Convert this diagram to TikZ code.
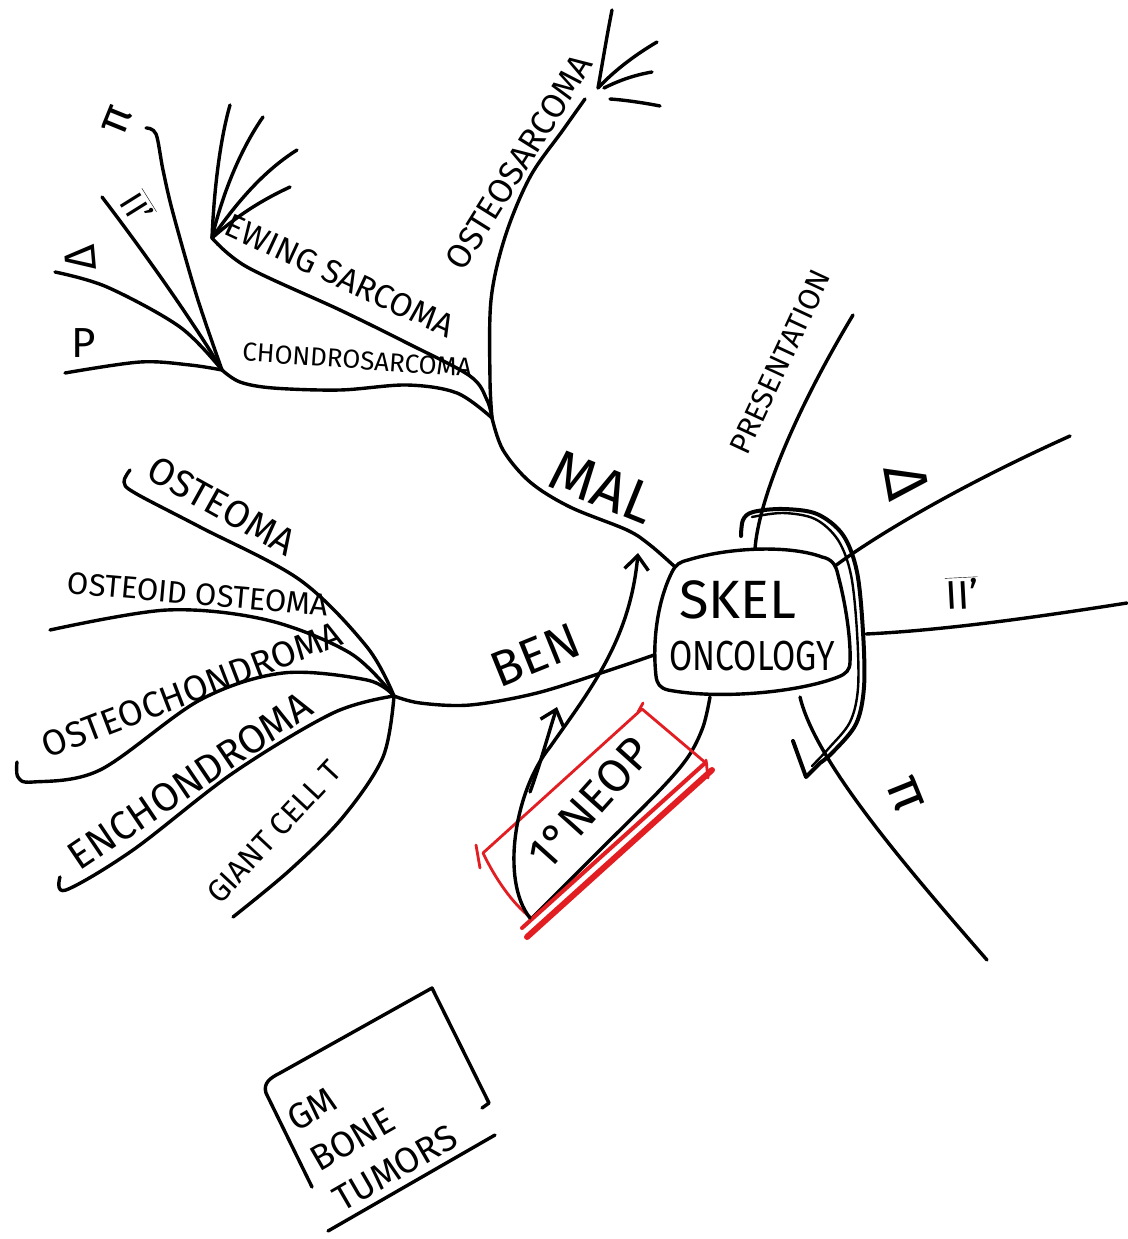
\documentclass[tikz,border=0pt]{standalone}
\usepackage{fontspec}
\setmainfont{Fira Sans}
\usetikzlibrary{arrows.meta}
\definecolor{penred}{RGB}{226,30,34}
\begin{document}
\begin{tikzpicture}[x=1pt,y=-1pt,
  ink/.style={draw=black,line width=3.4pt,line cap=round,line join=round},
  branch/.style={ink,smooth,tension=0.55},
  redink/.style={draw=penred,line width=2.8pt,line cap=round,line join=round},
  lab/.style={inner sep=0pt,text=black,font=\fontsize{#1}{#1}\selectfont},
  arr/.style={ink,-{Straight Barb[length=14pt,width=24pt]}},
]
\useasboundingbox (0,0) rectangle (1127,1239);
\fill[white] (0,0) rectangle (1127,1239);

% ---------- named points ----------
\coordinate (cMal) at (674,566);
\coordinate (jMal) at (492,418);
\coordinate (oEnd) at (585,99);
\coordinate (oFan) at (598,88);
\coordinate (of1) at (612,10);
\coordinate (of2) at (657,42);
\coordinate (of3a) at (604,88);
\coordinate (of3) at (652,72);
\coordinate (of4a) at (610,99);
\coordinate (of4) at (660,106);
\coordinate (jEw) at (212,238);
\coordinate (e1) at (230,105);
\coordinate (e2) at (263,117);
\coordinate (e3) at (297,150);
\coordinate (e4) at (290,187);
\coordinate (jChon) at (222,370);
\coordinate (ch1) at (65,373);
\coordinate (ch2) at (55,272);
\coordinate (ch3) at (102,197);
\coordinate (ch4) at (146,128);
\coordinate (cBen) at (654,655);
\coordinate (jBen) at (394,696);
\coordinate (b1) at (130,470);
\coordinate (b2) at (50,630);
\coordinate (b3) at (17,762);
\coordinate (b4) at (60,877);
\coordinate (b5) at (233,917);
\coordinate (cPres) at (755,549);
\coordinate (presEnd) at (853,315);
\coordinate (cDel) at (835,566);
\coordinate (delEnd) at (1070,436);
\coordinate (cTx) at (866,634);
\coordinate (txEnd) at (1127,603);
\coordinate (cPi) at (800,697);
\coordinate (piEnd) at (987,960);
\coordinate (cNeo) at (710,697);
\coordinate (neoEnd) at (530,920);
\coordinate (a1s) at (530,918);
\coordinate (a1m) at (550,747);
\coordinate (a1e) at (638,553);
\coordinate (a2s) at (530,792);
\coordinate (a2e) at (557,707);
\coordinate (arcS) at (741,536);
\coordinate (arcE) at (793,741);

% ---------- central box ----------
\draw[ink] (688,560) .. controls (730,547) and (790,545) .. (822,557)
  .. controls (832,559) and (836,565) .. (838,575)
  .. controls (846,605) and (851,640) .. (850,662)
  .. controls (850,670) and (846,674) .. (838,677)
  .. controls (800,692) and (720,700) .. (668,690)
  .. controls (660,688) and (657,684) .. (656,676)
  .. controls (652,640) and (658,600) .. (672,572)
  .. controls (676,564) and (680,562) .. (688,560) -- cycle;
\node[lab=54] (skel) at (738,600) {SKEL};
\node[lab=42] (onc) at (752,656) {\scalebox{0.8}[1]{ONCOLOGY}};

% ---------- malignant side ----------
\draw[branch] plot coordinates {(cMal) (650,545) (627,530) (570,507) (530,482) (503,450) (jMal)};
\draw[branch] plot coordinates {(jMal) (490,380) (491,300) (505,237) (530,177) (563,130) (oEnd)};
\draw[ink] (oFan) .. controls (603,60) and (607,35) .. (of1);
\draw[ink] (oFan) .. controls (615,70) and (635,55) .. (of2);
\draw[ink] (of3a) .. controls (620,80) and (635,75) .. (of3);
\draw[ink] (of4a) .. controls (625,100) and (645,103) .. (of4);

\draw[branch] plot coordinates {(jEw) (247,267) (340,310) (407,343) (470,376) (487,400) (jMal)};
\draw[ink] (jEw) .. controls (214,190) and (220,140) .. (e1);
\draw[ink] (jEw) .. controls (222,195) and (240,150) .. (e2);
\draw[ink] (jEw) .. controls (235,205) and (262,172) .. (e3);
\draw[ink] (jEw) .. controls (238,215) and (262,200) .. (e4);

\draw[branch] plot coordinates {(jChon) (240,382) (273,388) (340,390) (407,385) (457,393) (jMal)};
\draw[branch] plot coordinates {(ch1) (140,362) (190,365) (jChon)};
\draw[branch] plot coordinates {(ch2) (107,287) (180,327) (jChon)};
\draw[ink] (ch3) .. controls (150,260) and (195,325) .. (jChon);
\draw[branch] plot coordinates {(ch4) (156,134) (163,170) (173,213) (197,297) (jChon)};

\node[lab=34, rotate=58] (osteosarc) at (519,162) {OSTEOSARCOMA};
\node[lab=33, rotate=-25] (ewing) at (340,276) {EWING SARCOMA};
\node[lab=26, rotate=-4] (chondro) at (357,360) {CHONDROSARCOMA};
\node[lab=58, rotate=-22] (mal) at (603,487) {MAL};
\node[lab=46, rotate=68] (piL) at (118,120) {π};
\node[lab=34, rotate=-58] (txL) at (138,207) {$\overline{\mbox{II'}}$};
\node[lab=44, rotate=95] (delL) at (80,258) {Δ};
\node[lab=42] (pL) at (84,343) {P};

% ---------- benign side ----------
\draw[branch] plot coordinates {(cBen) (610,670) (537,693) (470,705) (420,703) (jBen)};
\draw[branch] plot coordinates {(b1) (124,482) (135,493) (200,527) (300,580) (367,647) (jBen)};
\draw[branch] plot coordinates {(b2) (167,610) (267,620) (350,653) (jBen)};
\draw[branch] plot coordinates {(b3) (18,777) (33,782) (100,770) (200,700) (283,673) (367,680) (jBen)};
\draw[branch] plot coordinates {(b4) (66,890) (133,850) (233,773) (333,713) (jBen)};
\draw[branch] plot coordinates {(jBen) (383,757) (343,817) (290,870) (b5)};

\node[lab=50, rotate=22] (ben) at (535,655) {BEN};
\node[lab=38, rotate=-29] (osteoma) at (222,506) {OSTEOMA};
\node[lab=31, rotate=-5] (osteoid) at (198,594) {OSTEOID OSTEOMA};
\node[lab=36, rotate=21] (osteochon) at (192,690) {OSTEOCHONDROMA};
\node[lab=40, rotate=34] (enchon) at (190,781) {ENCHONDROMA};
\node[lab=31, rotate=47] (giant) at (274,832) {GIANT CELL T};

% ---------- right side ----------
\draw[ink] (cPres) .. controls (758,505) and (790,420) .. (presEnd);
\draw[ink] (cDel) .. controls (870,540) and (950,490) .. (delEnd);
\draw[ink] (cTx) .. controls (950,630) and (1050,615) .. (txEnd);
\draw[ink] (cPi) .. controls (815,760) and (900,860) .. (piEnd);
\node[lab=30, rotate=65] (pres) at (780,362) {PRESENTATION};
\node[lab=60, rotate=-80] (delR) at (907,482) {Δ};
\node[lab=40, rotate=3] (txR) at (962,593) {$\overline{\mbox{II'}}$};
\node[lab=56, rotate=-68] (piR) at (905,795) {π};

% big arc with check mark
\draw[ink, line width=4pt] plot[smooth, tension=0.55] coordinates {(arcS) (743,520) (753,512) (783,509) (817,514) (843,535) (857,572) (863,632) (864,687) (856,724) (833,752) (820,763)} -- (806,777) -- (arcE);
\draw[ink, line width=2.4pt] plot[smooth, tension=0.55] coordinates {(752,517) (783,513) (815,519) (838,540) (851,575) (857,632) (858,688) (850,722) (829,748) (812,766)};

% ---------- primary neoplasm ----------
\draw[branch] plot coordinates {(cNeo) (703,727) (688,757) (660,790) (600,850) (neoEnd)};
\draw[redink] (483,853) -- (642,709) -- (707,764);
\draw[redink] (483,853) .. controls (495,878) and (512,903) .. (530,917);
\draw[redink] (476,845) -- (480,868);
\draw[redink] (638,712) -- (643,703);
\draw[redink] (706,760) -- (708,778);
\draw[draw=penred, line width=6pt, line cap=round] (712,770) -- (527,937);
\draw[draw=penred, line width=4pt, line cap=round] (704,764) -- (522,928);
\node[lab=46, rotate=48] (neop) at (590,803) {1°NEOP};

\draw[arr] (a1s) .. controls (500,880) and (515,790) .. (a1m) .. controls (590,690) and (630,640) .. (a1e);
\draw[arr] (a2s) .. controls (540,765) and (548,735) .. (a2e);

% ---------- note box ----------
\coordinate (bxA) at (312,1187);
\coordinate (bxB) at (266,1093);
\coordinate (bxC) at (432,988);
\coordinate (bxD) at (489,1103);
\coordinate (ulA) at (495,1135);
\coordinate (ulB) at (328,1231);
\draw[ink] (bxA) -- (bxB) .. controls (263,1083) and (270,1078) .. (280,1073) -- (bxC) -- (bxD) -- (482,1108);
\draw[ink] (ulA) -- (ulB);
\node[inner sep=0pt, rotate=30, align=left, font=\fontsize{36}{46}\selectfont] (note) at (372,1128) {GM\\BONE\\TUMORS};
\end{tikzpicture}
\end{document}
